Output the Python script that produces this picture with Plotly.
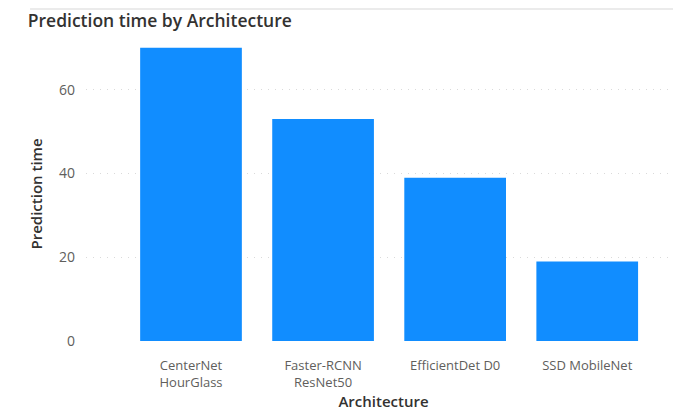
import plotly.graph_objects as go

categories = ["CenterNet<br>HourGlass", "Faster-RCNN<br>ResNet50", "EfficientDet D0", "SSD MobileNet"]
prediction_time = [70, 53, 39, 19]
y_ticks = [0, 20, 40, 60]

fig = go.Figure(go.Bar(
    x=categories, y=prediction_time,
    marker=dict(color="#118DFF", line=dict(width=0)),
    width=0.77,
))

fig.update_layout(
    width=681, height=412,
    margin=dict(l=78, r=8, t=39, b=79),
    paper_bgcolor="white", plot_bgcolor="white",
    showlegend=False,
    title=dict(text="Prediction time by Architecture", x=0.029, xanchor="left", xref="container",
               y=0.97, yanchor="middle", yref="container",
               font=dict(family="Open Sans", size=17.5, color="#333231", weight=600)),
    font=dict(family="Open Sans", color="#605E5C"),
    xaxis=dict(
        range=[-0.795, 3.71],
        showgrid=False, zeroline=False, showline=False,
        tickfont=dict(size=13, color="#605E5C"),
        ticks="", ticklabelstandoff=15,
        title=dict(text="Architecture", font=dict(size=15, color="#333231", weight=600), standoff=1),
    ),
    yaxis=dict(
        range=[0, 70.2],
        tickvals=y_ticks,
        showgrid=True, gridcolor="#DADADA", griddash="1px,6px", gridwidth=1.3,
        zeroline=False, showline=False,
        tickfont=dict(size=14, color="#605E5C"),
        ticks="", ticklabelstandoff=10,
        title=dict(text="Prediction time", font=dict(size=15, color="#333231", weight=600), standoff=12),
    ),
    shapes=[dict(type="line", xref="paper", yref="paper", x0=-0.094, x1=1.0, y0=1.129, y1=1.129,
                 line=dict(color="#EBEBEB", width=2))],
)

fig.write_html("out.html")
